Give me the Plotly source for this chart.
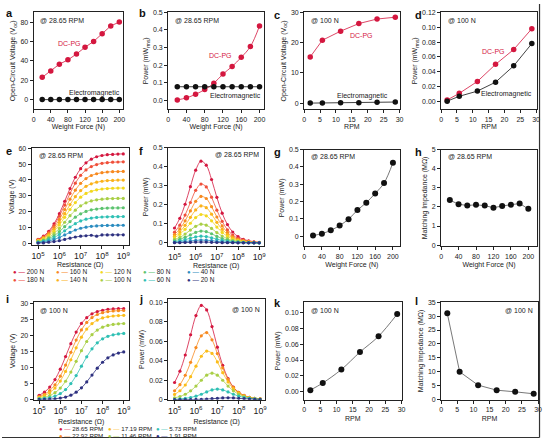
import plotly.graph_objects as go

W, H = 546, 442
FONT = "Liberation Sans, Arial, sans-serif"
RED = "#d4173f"
BLK = "#111111"

# ---------------- data ----------------
force_n = [20, 40, 60, 80, 100, 120, 140, 160, 180, 200]
voc_dcpg_force = [23, 29.5, 36.5, 41, 47, 54, 60, 68, 76, 80]
voc_em_force = [0, 0, 0, 0, 0, 0, 0, 0, 0, 0]
pow_dcpg_force = [0.003, 0.015, 0.035, 0.062, 0.098, 0.150, 0.193, 0.245, 0.306, 0.423]
pow_em_force = [0.078, 0.078, 0.078, 0.078, 0.078, 0.078, 0.078, 0.078, 0.078, 0.078]

rpm = [1.91, 5.73, 11.46, 17.19, 22.92, 28.65]
voc_dcpg_rpm = [15.3, 20.8, 23.8, 26.3, 27.8, 28.4]
voc_em_rpm = [0.05, 0.1, 0.15, 0.2, 0.3, 0.4]
pow_dcpg_rpm = [0.002, 0.011, 0.027, 0.050, 0.070, 0.098]
pow_em_rpm = [0.0005, 0.007, 0.014, 0.026, 0.048, 0.078]

pow_max_force = [0.004, 0.015, 0.034, 0.062, 0.098, 0.151, 0.194, 0.247, 0.307, 0.425]
match_imp_force = [2.36, 2.14, 2.08, 2.11, 2.07, 1.96, 2.05, 2.12, 2.18, 1.9]
pow_max_rpm = [0.002, 0.011, 0.028, 0.050, 0.070, 0.098]
match_imp_rpm = [31, 10, 5.2, 3.4, 2.8, 2.1]

resistance = [1.0e5, 1.78e5, 3.16e5, 5.62e5, 1.0e6, 1.78e6, 3.16e6, 5.62e6, 1.0e7,
              1.78e7, 3.16e7, 5.62e7, 1.0e8, 1.78e8, 3.16e8, 5.62e8, 1.0e9]

force_labels = ["200 N", "180 N", "160 N", "140 N", "120 N", "100 N", "80 N", "60 N", "40 N", "20 N"]
force_colors = ["#d4173f", "#f0503a", "#f7891f", "#fbb21a", "#f2d81e", "#a9cf46", "#5cc36f", "#2fc0b4", "#2a8cc0", "#2e3180"]

volt_200N = [2.7, 4.6, 7.7, 12.4, 18.8, 26.6, 34.6, 41.7, 47.1, 50.8, 53.1, 54.6, 55.4, 55.9, 56.1, 56.3, 56.4]
volt_180N = [2.5, 4.2, 7.0, 11.3, 17.2, 24.2, 31.5, 38.0, 42.9, 46.3, 48.4, 49.7, 50.5, 50.9, 51.2, 51.3, 51.4]
volt_160N = [2.2, 3.7, 6.2, 10.0, 15.2, 21.4, 27.9, 33.6, 37.9, 40.9, 42.8, 43.9, 44.6, 45.0, 45.2, 45.3, 45.4]
volt_140N = [1.9, 3.3, 5.5, 8.8, 13.3, 18.8, 24.5, 29.5, 33.3, 36.0, 37.6, 38.6, 39.2, 39.6, 39.7, 39.9, 39.9]
volt_120N = [1.7, 2.9, 4.8, 7.7, 11.7, 16.5, 21.4, 25.8, 29.2, 31.5, 32.9, 33.8, 34.3, 34.6, 34.8, 34.9, 34.9]
volt_100N = [1.4, 2.3, 3.9, 6.3, 9.5, 13.4, 17.5, 21.0, 23.7, 25.6, 26.8, 27.5, 27.9, 28.2, 28.3, 28.4, 28.4]
volt_80N = [1.1, 1.8, 3.1, 4.9, 7.5, 10.6, 13.8, 16.6, 18.7, 20.2, 21.2, 21.7, 22.1, 22.3, 22.4, 22.4, 22.5]
volt_60N = [0.8, 1.4, 2.3, 3.7, 5.7, 8.0, 10.4, 12.5, 14.2, 15.3, 16.0, 16.4, 16.7, 16.8, 16.9, 16.9, 17.0]
volt_40N = [0.5, 0.9, 1.6, 2.5, 3.8, 5.4, 7.0, 8.5, 9.6, 10.3, 10.8, 11.1, 11.3, 11.4, 11.4, 11.5, 11.5]
volt_20N = [0.3, 0.4, 0.8, 1.2, 1.8, 2.6, 3.4, 4.1, 4.6, 4.9, 5.2, 4.6, 5.4, 5.4, 5.5, 5.5, 5.5]

pow_200N = [0.078, 0.129, 0.203, 0.295, 0.382, 0.429, 0.408, 0.333, 0.239, 0.156, 0.096, 0.057, 0.033, 0.019, 0.011, 0.006, 0.003]
pow_180N = [0.056, 0.093, 0.146, 0.212, 0.276, 0.309, 0.294, 0.240, 0.172, 0.113, 0.069, 0.041, 0.024, 0.014, 0.008, 0.004, 0.002]
pow_160N = [0.044, 0.073, 0.116, 0.168, 0.218, 0.244, 0.233, 0.190, 0.136, 0.089, 0.055, 0.032, 0.019, 0.011, 0.006, 0.003, 0.002]
pow_140N = [0.035, 0.058, 0.092, 0.134, 0.173, 0.194, 0.185, 0.151, 0.108, 0.071, 0.044, 0.026, 0.015, 0.009, 0.005, 0.003, 0.002]
pow_120N = [0.027, 0.045, 0.071, 0.103, 0.133, 0.149, 0.142, 0.116, 0.083, 0.055, 0.034, 0.020, 0.012, 0.007, 0.004, 0.002, 0.001]
pow_100N = [0.018, 0.029, 0.046, 0.067, 0.087, 0.098, 0.093, 0.076, 0.054, 0.036, 0.022, 0.013, 0.008, 0.004, 0.002, 0.001, 0.001]
pow_80N = [0.011, 0.019, 0.029, 0.042, 0.055, 0.062, 0.059, 0.048, 0.034, 0.023, 0.014, 0.008, 0.005, 0.003, 0.002, 0.001, 0.0005]
pow_60N = [0.006, 0.010, 0.017, 0.024, 0.031, 0.035, 0.033, 0.027, 0.019, 0.013, 0.008, 0.005, 0.003, 0.002, 0.001, 0.0005, 0.0003]
pow_40N = [0.003, 0.004, 0.007, 0.010, 0.013, 0.015, 0.014, 0.012, 0.008, 0.005, 0.003, 0.002, 0.001, 0.001, 0.0004, 0.0002, 0.0001]
pow_20N = [0.001, 0.001, 0.002, 0.003, 0.004, 0.004, 0.004, 0.003, 0.002, 0.001, 0.001, 0.001, 0.0003, 0.0002, 0.0001, 0.0001, 0.0]

rpm_labels = ["28.65 RPM", "22.92 RPM", "17.19 RPM", "11.46 RPM", "5.73 RPM", "1.91 RPM"]
rpm_colors = ["#d4173f", "#f7891f", "#fbbd1a", "#a9cf46", "#2fc0b4", "#2e3180"]

volt_2865 = [1.35, 2.32, 3.89, 6.25, 9.48, 13.4, 17.4, 21.0, 23.7, 25.5, 26.7, 27.4, 27.8, 28.1, 28.2, 28.3, 28.3]
volt_2292 = [0.95, 1.65, 2.81, 4.62, 7.28, 10.76, 14.70, 18.52, 21.69, 24.00, 25.53, 26.47, 27.04, 27.37, 27.56, 27.66, 27.72]
volt_1719 = [0.72, 1.25, 2.15, 3.60, 5.78, 8.78, 12.40, 16.12, 19.41, 21.93, 23.65, 24.74, 25.40, 25.78, 26.01, 26.13, 26.21]
volt_1146 = [0.41, 0.73, 1.27, 2.16, 3.59, 5.72, 8.57, 11.90, 15.23, 18.08, 20.21, 21.64, 22.53, 23.07, 23.39, 23.56, 23.67]
volt_573 = [0.21, 0.36, 0.64, 1.11, 1.89, 3.14, 5.00, 7.49, 10.40, 13.31, 15.80, 17.66, 18.91, 19.69, 20.16, 20.44, 20.59]
volt_191 = [0.05, 0.09, 0.15, 0.27, 0.47, 0.81, 1.39, 2.31, 3.68, 5.51, 7.65, 9.79, 11.62, 12.99, 13.91, 14.49, 14.83]

pow_2865 = [0.0176, 0.0292, 0.0458, 0.0666, 0.0863, 0.0967, 0.0920, 0.0750, 0.0538, 0.0352, 0.0217, 0.0128, 0.0074, 0.0043, 0.0024, 0.0014, 0.0008]
pow_2292 = [0.0091, 0.0154, 0.0250, 0.0383, 0.0534, 0.0655, 0.0688, 0.0614, 0.0473, 0.0326, 0.0207, 0.0125, 0.0074, 0.0042, 0.0024, 0.0014, 0.0008]
pow_1719 = [0.0053, 0.0091, 0.0150, 0.0236, 0.0343, 0.0445, 0.0498, 0.0474, 0.0387, 0.0277, 0.0181, 0.0112, 0.0066, 0.0038, 0.0022, 0.0012, 0.0007]
pow_1146 = [0.0019, 0.0032, 0.0055, 0.0090, 0.0139, 0.0199, 0.0251, 0.0272, 0.0251, 0.0199, 0.0139, 0.0090, 0.0055, 0.0032, 0.0019, 0.0011, 0.0006]
pow_573 = [0.0004, 0.0007, 0.0013, 0.0022, 0.0036, 0.0055, 0.0079, 0.0100, 0.0108, 0.0100, 0.0079, 0.0055, 0.0036, 0.0022, 0.0013, 0.0007, 0.0004]
pow_191 = [0.00002, 0.00004, 0.00007, 0.00013, 0.00023, 0.00038, 0.00063, 0.00097, 0.00139, 0.00175, 0.0019, 0.00175, 0.00139, 0.00097, 0.00063, 0.00038, 0.00023]

force_volt = [volt_200N, volt_180N, volt_160N, volt_140N, volt_120N, volt_100N, volt_80N, volt_60N, volt_40N, volt_20N]
force_pow = [pow_200N, pow_180N, pow_160N, pow_140N, pow_120N, pow_100N, pow_80N, pow_60N, pow_40N, pow_20N]
rpm_volt = [volt_2865, volt_2292, volt_1719, volt_1146, volt_573, volt_191]
rpm_pow = [pow_2865, pow_2292, pow_1719, pow_1146, pow_573, pow_191]

# ---------------- layout helpers ----------------
boxes = {  # panel: (left, right, top, bottom) in px
    1: (32, 122.5, 8.5, 107), 2: (168, 265, 8.5, 107), 3: (305.5, 402, 8.5, 107), 4: (444, 541, 8.5, 107),
    5: (30, 128, 146.5, 245), 6: (168, 265, 146, 246), 7: (305.5, 402, 148, 246), 8: (444, 541, 148, 246),
    9: (32, 128, 303, 402), 10: (168, 266, 300, 402), 11: (305.5, 404, 303, 402), 12: (444, 542, 303, 402),
}

fig = go.Figure()
TF = dict(family=FONT, size=7, color="#222")


def ax_names(p):
    return ("x" if p == 1 else f"x{p}"), ("y" if p == 1 else f"y{p}")


def setup_axes(p, xtitle, ytitle, xr, yr, xtype="linear", xdtick=None, ydtick=None,
               yfmt=None, ytickvals=None, yticktext=None, xstand=2):
    l, r, t, b = boxes[p]
    common = dict(showline=True, linecolor="#222", linewidth=1, mirror=True, ticks="outside",
                  ticklen=3, tickwidth=1, tickcolor="#222", showgrid=False, zeroline=False,
                  tickfont=TF, title_font=TF)
    xk = "xaxis" if p == 1 else f"xaxis{p}"
    yk = "yaxis" if p == 1 else f"yaxis{p}"
    xa, ya = ax_names(p)
    xd = dict(common, domain=[l / W, r / W], anchor=ya, range=xr, type=xtype,
              title=dict(text=xtitle, standoff=xstand))
    if xtype == "log":
        xd.update(dtick=1, exponentformat="power", showexponent="all")
    else:
        xd.update(dtick=xdtick, tick0=0)
    yd = dict(common, domain=[1 - b / H, 1 - t / H], anchor=xa, range=yr,
              title=dict(text=ytitle, standoff=3))
    if ytickvals is not None:
        yd.update(tickmode="array", tickvals=ytickvals, ticktext=yticktext)
    else:
        yd.update(dtick=ydtick, tick0=0)
    if yfmt:
        yd["tickformat"] = yfmt
    fig.update_layout({xk: xd, yk: yd})


def add(p, x, y, color, msize, lwidth=0.8, lcolor=None, shape="linear", name=None):
    xa, ya = ax_names(p)
    fig.add_trace(go.Scatter(x=x, y=y, xaxis=xa, yaxis=ya, mode="lines+markers", showlegend=False,
                             line=dict(color=lcolor or color, width=lwidth, shape=shape),
                             marker=dict(color=color, size=msize, line=dict(width=0)), name=name))


annotations = []


def note(p, text, x, y, xanchor="left", yanchor="top", color="#222", size=7, ref="domain"):
    xa, ya = ax_names(p)
    if ref == "domain":
        annotations.append(dict(text=text, x=x, y=y, xref=f"{xa} domain", yref=f"{ya} domain",
                                xanchor=xanchor, yanchor=yanchor, showarrow=False,
                                font=dict(family=FONT, size=size, color=color)))
    else:
        annotations.append(dict(text=text, x=x, y=y, xref=xa, yref=ya,
                                xanchor=xanchor, yanchor=yanchor, showarrow=False,
                                font=dict(family=FONT, size=size, color=color)))


VOC = "Open-Circuit Voltage (V<sub>oc</sub>)"
PRMS = "Power (mW<sub>rms</sub>)"

# a
setup_axes(1, "Weight Force (N)", VOC, [0, 209], [-10, 90], xdtick=40, ydtick=20)
add(1, force_n, voc_dcpg_force, RED, 5.5)
add(1, force_n, voc_em_force, BLK, 5.5)
note(1, "@ 28.65 RPM", 0.05, 0.97)
note(1, "DC-PG", 84, 58, xanchor="center", yanchor="middle", color=RED, ref="data")
note(1, "Electromagnetic", 0.99, 0.17, xanchor="right", yanchor="middle", ref="domain")

# b
setup_axes(2, "Weight Force (N)", PRMS, [0, 210], [-0.05, 0.5], xdtick=40, ydtick=0.1, yfmt=".1f")
add(2, force_n, pow_dcpg_force, RED, 5.5, shape="spline")
add(2, force_n, pow_em_force, BLK, 5.5)
note(2, "@ 28.65 RPM", 0.05, 0.97)
note(2, "DC-PG", 0.55, 0.56, xanchor="center", yanchor="middle", color=RED)
note(2, "Electromagnetic", 0.99, 0.14, xanchor="right", yanchor="middle")

# c
setup_axes(3, "RPM", VOC, [0, 30], [-2, 30], xdtick=5, ydtick=10)
add(3, rpm, voc_dcpg_rpm, RED, 5.5)
add(3, rpm, voc_em_rpm, BLK, 5.5)
note(3, "@ 100 N", 0.05, 0.97)
note(3, "DC-PG", 0.6, 0.76, xanchor="center", yanchor="middle", color=RED)
note(3, "Electromagnetic", 0.9, 0.14, xanchor="right", yanchor="middle")

# d
setup_axes(4, "RPM", PRMS, [0, 30.3], [-0.0105, 0.12], xdtick=5, ydtick=0.02, yfmt=".2f")
add(4, rpm, pow_dcpg_rpm, RED, 5.5)
add(4, rpm, pow_em_rpm, BLK, 5.5)
note(4, "@ 100 N", 0.05, 0.97)
note(4, "DC-PG", 0.55, 0.6, xanchor="center", yanchor="middle", color=RED)
note(4, "Electromagnetic", 0.97, 0.16, xanchor="right", yanchor="middle")

# e
setup_axes(5, "Resistance (Ω)", "Voltage (V)", [4.7, 9.25], [-1, 60], xtype="log", ydtick=10, xstand=1)
for vals, c in zip(force_volt, force_colors):
    add(5, resistance, vals, c, 3.2, lwidth=0.8, shape="spline")
note(5, "@ 28.65 RPM", 0.05, 0.985)

# f
setup_axes(6, "Resistance (Ω)", "Power (mW)", [4.7, 9.23], [-0.017, 0.5], xtype="log", ydtick=0.1, xstand=1)
for vals, c in zip(force_pow, force_colors):
    add(6, resistance, vals, c, 3.2, lwidth=0.8, shape="spline")
note(6, "@ 28.65 RPM", 0.97, 0.985, xanchor="right")

# g
setup_axes(7, "Weight Force (N)", "Power (mW)", [0, 215], [-0.057, 0.5], xdtick=40, ydtick=0.1, xstand=3)
add(7, force_n, pow_max_force, BLK, 6, lcolor="#555", shape="spline")
note(7, "@ 28.65 RPM", 0.05, 0.985)

# h
setup_axes(8, "Weight Force (N)", "Matching Impedance (MΩ)", [0, 220], [-0.05, 5], xdtick=40, ydtick=1, xstand=3)
add(8, force_n, match_imp_force, BLK, 6, lcolor="#555")
note(8, "@ 28.65 RPM", 0.05, 0.985)

# i
setup_axes(9, "Resistance (Ω)", "Voltage (V)", [4.74, 9.23], [0, 30.3], xtype="log", ydtick=5, xstand=4)
for vals, c in zip(rpm_volt, rpm_colors):
    add(9, resistance, vals, c, 3.2, lwidth=0.8, shape="spline")
note(9, "@ 100 N", 0.05, 0.97)

# j
setup_axes(10, "Resistance (Ω)", "Power (mW)", [4.7, 9.23], [0, 0.103], xtype="log",
           ytickvals=[0, 0.02, 0.04, 0.06, 0.08, 0.10], yticktext=["0", "0.02", "0.04", "0.06", "0.08", "0.10"],
           xstand=4)
for vals, c in zip(rpm_pow, rpm_colors):
    add(10, resistance, vals, c, 3.2, lwidth=0.8, shape="spline")
note(10, "@ 100 N", 0.97, 0.95, xanchor="right")

# k
setup_axes(11, "RPM", "Power (mW)", [0, 30], [-0.01, 0.113], xdtick=5, ydtick=0.02, yfmt=".2f", xstand=4)
add(11, rpm, pow_max_rpm, BLK, 6, lcolor="#555", shape="spline")
note(11, "@ 100 N", 0.05, 0.97)

# l
setup_axes(12, "RPM", "Matching Impedance (MΩ)", [0, 30], [0, 35], xdtick=5, ydtick=5, xstand=4)
add(12, rpm, match_imp_rpm, BLK, 6, lcolor="#555")
note(12, "@ 100 N", 0.97, 0.97, xanchor="right")

# panel letters
letters = ["a", "b", "c", "d", "e", "f", "g", "h", "i", "j", "k", "l"]
letter_pos = [(2, 1), (137, 1), (273, 3), (416, 3), (2, 141), (137, 141), (273, 142), (416, 142),
              (2, 292), (137, 292), (273, 296), (416, 294)]
for t, (px, py) in zip(letters, letter_pos):
    annotations.append(dict(text=f"<b>{t}</b>", x=px / W, y=1 - py / H, xref="paper", yref="paper",
                            xanchor="left", yanchor="top", showarrow=False,
                            font=dict(family=FONT, size=11, color="#111")))


# legends as text entries
def legend_entry(label, color, px, py, size=6.5):
    txt = (f'<span style="color:{color};font-size:6px">●</span>'
           f'<span style="color:{color}"> —</span> {label}')
    annotations.append(dict(text=txt, x=px / W, y=1 - py / H, xref="paper", yref="paper",
                            xanchor="left", yanchor="middle", showarrow=False,
                            font=dict(family=FONT, size=size, color="#222")))


order_row1 = [0, 2, 4, 6, 8]
order_row2 = [1, 3, 5, 7, 9]
for col, idx in enumerate(order_row1):
    legend_entry(force_labels[idx], force_colors[idx], 9 + 44 * col, 272)
for col, idx in enumerate(order_row2):
    legend_entry(force_labels[idx], force_colors[idx], 9 + 44 * col, 280)
for col, idx in enumerate([0, 2, 4]):
    legend_entry(rpm_labels[idx], rpm_colors[idx], 56 + 49 * col, 431, size=6.2)
for col, idx in enumerate([1, 3, 5]):
    legend_entry(rpm_labels[idx], rpm_colors[idx], 56 + 49 * col, 438, size=6.2)

# outer frame lines (right and bottom edges of the figure panel)
shapes = [
    dict(type="line", xref="paper", yref="paper", x0=543.5 / W, x1=543.5 / W, y0=1 - 440.5 / H, y1=1,
         line=dict(color="#333", width=1.2)),
    dict(type="line", xref="paper", yref="paper", x0=0, x1=543.5 / W, y0=1 - 440.5 / H, y1=1 - 440.5 / H,
         line=dict(color="#333", width=1.2)),
]

fig.update_layout(width=W, height=H, margin=dict(l=0, r=0, t=0, b=0), plot_bgcolor="white",
                  paper_bgcolor="white", showlegend=False, annotations=annotations, shapes=shapes,
                  font=dict(family=FONT, size=7, color="#222"))
fig.write_html("out.html")
